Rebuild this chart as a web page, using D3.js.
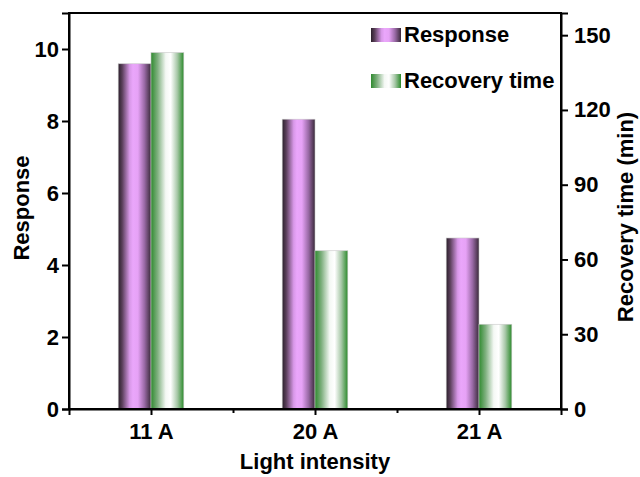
<!DOCTYPE html>
<html>
<head>
<meta charset="utf-8">
<script src="https://cdn.jsdelivr.net/npm/d3@7/dist/d3.min.js"></script>
<style>
  html, body { margin: 0; padding: 0; background: #fff; }
  svg text { font-family: "Liberation Sans", Arial, sans-serif; font-weight: bold; }
</style>
</head>
<body>
<svg id="chart" width="640" height="477"></svg>
<script>
// Light intensity categories and the two measured series
const categories = ["11 A", "20 A", "21 A"];
const responseValues = [9.59, 8.05, 4.75];
const recoveryValues = [143, 63.5, 34];
const leftTicks = [0, 2, 4, 6, 8, 10];
const rightTicks = [0, 30, 60, 90, 120, 150];

const svg = d3.select("#chart");
const plot = { left: 69, right: 561, top: 13, bottom: 409 };

// Categories sit at 1, 2, 3 on a linear axis with half-unit margins
const x = d3.scaleLinear().domain([0.5, 3.5]).range([plot.left, plot.right]);
const yL = d3.scaleLinear().domain([0, 11]).range([plot.bottom, plot.top]);
const yR = d3.scaleLinear().domain([0, 158.9]).range([plot.bottom, plot.top]);
const barW = 0.2;

// Cylinder-like horizontal shading for the bars
const defs = svg.append("defs");
function gradient(id, stops) {
  const g = defs.append("linearGradient").attr("id", id)
    .attr("x1", "0%").attr("x2", "100%").attr("y1", "0%").attr("y2", "0%");
  stops.forEach(([o, c]) => g.append("stop").attr("offset", o).attr("stop-color", c));
}
gradient("gradResp", [
  [0, "#2b202b"], [0.12, "#5a3f5a"], [0.35, "#d898e8"], [0.45, "#eaa6fb"],
  [0.6, "#e6a2f6"], [0.8, "#9a6aa6"], [1, "#3a2a3a"]
]);
gradient("gradRec", [
  [0, "#2f8a2f"], [0.2, "#7fb07f"], [0.45, "#f4f8f4"], [0.6, "#ffffff"],
  [0.8, "#a8c8a8"], [1, "#2a8a2a"]
]);

// Response bars (left axis)
svg.append("g").selectAll("rect")
  .data(responseValues)
  .join("rect")
  .attr("x", (d, i) => x(i + 1 - barW))
  .attr("width", x(1) - x(1 - barW))
  .attr("y", d => yL(d))
  .attr("height", d => yL(0) - yL(d))
  .attr("fill", "url(#gradResp)")
  .attr("stroke", "#c8c8c8").attr("stroke-width", 0.6);

// Recovery time bars (right axis)
svg.append("g").selectAll("rect")
  .data(recoveryValues)
  .join("rect")
  .attr("x", (d, i) => x(i + 1))
  .attr("width", x(1) - x(1 - barW))
  .attr("y", d => yR(d))
  .attr("height", d => yR(0) - yR(d))
  .attr("fill", "url(#gradRec)")
  .attr("stroke", "#c8c8c8").attr("stroke-width", 0.6);

// Plot frame
svg.append("rect")
  .attr("x", plot.left).attr("y", plot.top)
  .attr("width", plot.right - plot.left).attr("height", plot.bottom - plot.top)
  .attr("fill", "none").attr("stroke", "#000").attr("stroke-width", 2);

// Left axis
const axL = svg.append("g").attr("transform", `translate(${plot.left},0)`)
  .call(d3.axisLeft(yL).tickValues(leftTicks).tickSize(7).tickPadding(3));
// Right axis
const axR = svg.append("g").attr("transform", `translate(${plot.right},0)`)
  .call(d3.axisRight(yR).tickValues(rightTicks).tickSize(7).tickPadding(6));
// Bottom axis with category labels
const axB = svg.append("g").attr("transform", `translate(0,${plot.bottom})`)
  .call(d3.axisBottom(x).tickValues([1, 2, 3]).tickFormat((d, i) => categories[i])
    .tickSize(6).tickPadding(8));
// Minor ticks between categories
svg.append("g").attr("transform", `translate(0,${plot.bottom})`)
  .call(d3.axisBottom(x).tickValues([1.5, 2.5]).tickFormat("").tickSize(4))
  .call(g => g.select(".domain").remove());

[axL, axR, axB].forEach(a => {
  a.attr("font-size", null).attr("font-family", null);
  a.select(".domain").attr("stroke-width", 2);
  a.selectAll("text").style("font-size", "22px").attr("fill", "#000");
});
svg.selectAll(".tick line").attr("stroke-width", 2);

// Axis titles
svg.append("text")
  .attr("transform", `translate(29,${(plot.top + plot.bottom) / 2 - 3}) rotate(-90)`)
  .attr("text-anchor", "middle").style("font-size", "22px").text("Response");
svg.append("text")
  .attr("transform", `translate(633,${(plot.top + plot.bottom) / 2 + 6}) rotate(-90)`)
  .attr("text-anchor", "middle").style("font-size", "22px").text("Recovery time (min)");
svg.append("text")
  .attr("x", (plot.left + plot.right) / 2).attr("y", 469)
  .attr("text-anchor", "middle").style("font-size", "22px").text("Light intensity");

// Legend
const legendItems = [
  { label: "Response", fill: "url(#gradResp)" },
  { label: "Recovery time", fill: "url(#gradRec)" }
];
const legend = svg.append("g");
legendItems.forEach((item, i) => {
  const yy = 28 + i * 46;
  legend.append("rect").attr("x", 371).attr("y", yy).attr("width", 30).attr("height", 14)
    .attr("fill", item.fill);
  legend.append("text").attr("x", 404).attr("y", yy + 14)
    .style("font-size", "22px").text(item.label);
});
</script>
</body>
</html>
